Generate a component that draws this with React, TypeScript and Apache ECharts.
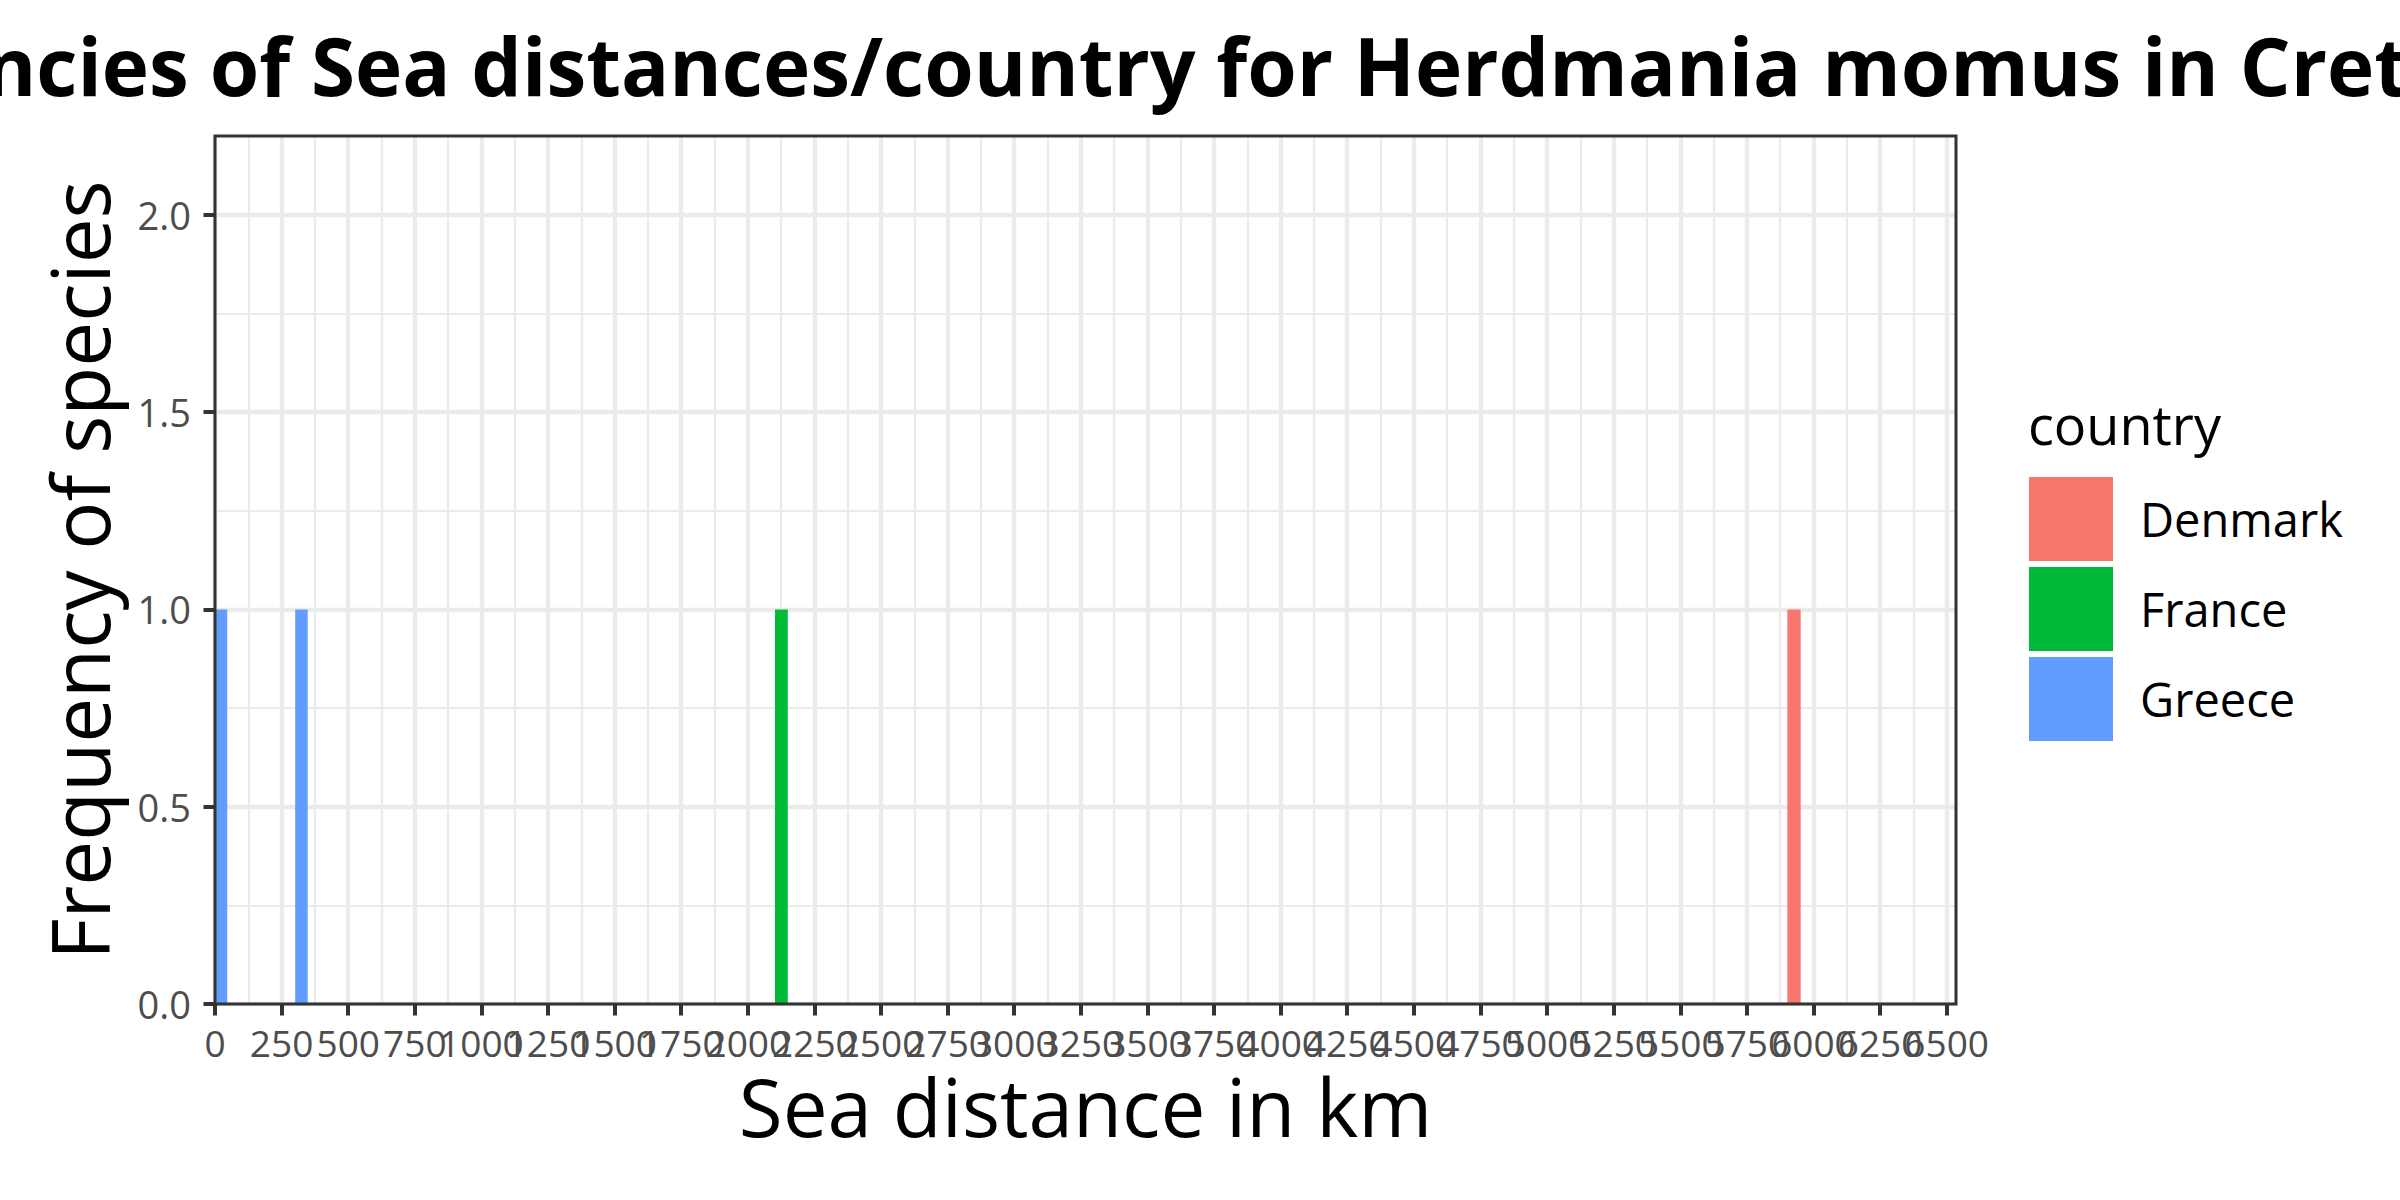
import React, { useEffect, useRef } from "react";
import * as echarts from "echarts";

const chartTitle = "Frequencies of Sea distances/country for Herdmania momus in Crete";
const xAxisTitle = "Sea distance in km";
const yAxisTitle = "Frequency of species";
const legendTitle = "country";

const countries = ["Denmark", "France", "Greece"];
const countryColors = ["#F8766D", "#00BA38", "#619CFF"];

// histogram bins: [bin start (km), bin end (km), count]
const denmarkBins = [[5902, 5952, 1]];
const franceBins = [[2102, 2150, 1]];
const greeceBins = [
  [0, 46, 1],
  [301, 348, 1],
];

const xTicks = [
  0, 250, 500, 750, 1000, 1250, 1500, 1750, 2000, 2250, 2500, 2750, 3000, 3250,
  3500, 3750, 4000, 4250, 4500, 4750, 5000, 5250, 5500, 5750, 6000, 6250, 6500,
];
const yTicks = [0, 0.5, 1.0, 1.5, 2.0];
const xRange = [0, 6535];
const yRange = [0, 2.2];

const FONT = "'Open Sans', 'DejaVu Sans', sans-serif";
const GRID = { left: 215, right: 444, top: 136, bottom: 196 };

export default function App() {
  const ref = useRef<HTMLDivElement>(null);

  useEffect(() => {
    if (!ref.current) return;
    const chart = echarts.init(ref.current, undefined, { renderer: "svg" });

    const xMinor = xTicks.map((v) => v + 125).filter((v) => v < xRange[1]);
    const yMinor = yTicks.map((v) => v + 0.25).filter((v) => v < yRange[1]);
    // labels split over two axes so that the overlapping neighbours are all kept
    const xLabelsA = xTicks.filter((_, i) => i % 2 === 0);
    const xLabelsB = xTicks.filter((_, i) => i % 2 === 1);

    const binSeries = [denmarkBins, franceBins, greeceBins].map((bins, i) => ({
      name: countries[i],
      type: "custom",
      xAxisIndex: 0,
      yAxisIndex: 0,
      itemStyle: { color: countryColors[i] },
      encode: { x: [0, 1], y: 2 },
      data: bins,
      z: 3,
      renderItem: (params: any, api: any) => {
        const p0 = api.coord([api.value(0), 0]);
        const p1 = api.coord([api.value(1), api.value(2)]);
        return {
          type: "rect",
          shape: { x: p0[0], y: p1[1], width: p1[0] - p0[0], height: p0[1] - p1[1] },
          style: { fill: countryColors[i] },
        };
      },
    }));

    const panelW = 2400 - GRID.left - GRID.right;
    const panelH = 1200 - GRID.top - GRID.bottom;

    const xLabelStyle = {
      fontSize: 37,
      color: "#4D4D4D",
      margin: 20,
      fontFamily: FONT,
      hideOverlap: false,
      showMinLabel: true,
      showMaxLabel: true,
      formatter: (v: number) => String(v),
    };

    chart.setOption({
      animation: false,
      backgroundColor: "#ffffff",
      textStyle: { fontFamily: FONT },
      grid: { ...GRID, containLabel: false, show: false },
      legend: {
        data: countries,
        orient: "vertical",
        left: 2029,
        top: 477,
        padding: 0,
        itemWidth: 84,
        itemHeight: 84,
        itemGap: 6,
        icon: "rect",
        selectedMode: false,
        textStyle: { fontSize: 47, color: "#000000", fontFamily: FONT, padding: [0, 0, 0, 22] },
      },
      xAxis: [
        {
          type: "value",
          min: xRange[0],
          max: xRange[1],
          position: "bottom",
          name: xAxisTitle,
          nameLocation: "middle",
          nameGap: 58,
          nameTextStyle: { fontSize: 80, color: "#000000", fontFamily: FONT },
          axisLine: { show: false },
          axisTick: {
            show: true,
            customValues: xTicks,
            length: 11.5,
            lineStyle: { color: "#333333", width: 4 },
          },
          axisLabel: { ...xLabelStyle, customValues: xLabelsA },
          splitLine: { show: true, lineStyle: { color: "#EBEBEB", width: 4.4 } },
        },
        {
          type: "value",
          min: xRange[0],
          max: xRange[1],
          position: "top",
          axisLine: { show: false },
          axisTick: { show: false, customValues: xMinor },
          axisLabel: { show: false, customValues: xMinor },
          splitLine: { show: true, lineStyle: { color: "#EBEBEB", width: 2.2 } },
        },
        {
          type: "value",
          min: xRange[0],
          max: xRange[1],
          position: "bottom",
          axisLine: { show: false },
          axisTick: { show: false, customValues: xLabelsB },
          axisLabel: { ...xLabelStyle, customValues: xLabelsB },
          splitLine: { show: false },
        },
      ],
      yAxis: [
        {
          type: "value",
          min: yRange[0],
          max: yRange[1],
          position: "left",
          name: yAxisTitle,
          nameLocation: "middle",
          nameGap: 97,
          nameTextStyle: { fontSize: 80, color: "#000000", fontFamily: FONT },
          axisLine: { show: false },
          axisTick: {
            show: true,
            customValues: yTicks,
            length: 11.5,
            lineStyle: { color: "#333333", width: 4 },
          },
          axisLabel: {
            customValues: yTicks,
            fontSize: 38,
            color: "#4D4D4D",
            margin: 24,
            fontFamily: FONT,
            showMinLabel: true,
            showMaxLabel: true,
            formatter: (v: number) => v.toFixed(1),
          },
          splitLine: { show: true, lineStyle: { color: "#EBEBEB", width: 4.4 } },
        },
        {
          type: "value",
          min: yRange[0],
          max: yRange[1],
          position: "right",
          axisLine: { show: false },
          axisTick: { show: false, customValues: yMinor },
          axisLabel: { show: false, customValues: yMinor },
          splitLine: { show: true, lineStyle: { color: "#EBEBEB", width: 2.2 } },
        },
      ],
      graphic: [
        {
          type: "rect",
          z: 100,
          silent: true,
          shape: { x: GRID.left, y: GRID.top, width: panelW, height: panelH },
          style: { fill: "none", stroke: "#333333", lineWidth: 3 },
        },
        {
          type: "text",
          z: 100,
          x: 1081,
          y: 64,
          style: {
            text: chartTitle,
            font: `bold 80px ${FONT}`,
            fill: "#000000",
            textAlign: "center",
            textVerticalAlign: "middle",
          },
        },
        {
          type: "text",
          z: 100,
          x: 2028,
          y: 424,
          style: {
            text: legendTitle,
            font: `54px ${FONT}`,
            fill: "#000000",
            textAlign: "left",
            textVerticalAlign: "middle",
          },
        },
      ],
      series: binSeries,
    });

    return () => chart.dispose();
  }, []);

  return (
    <div
      ref={ref}
      style={{ position: "fixed", left: 0, top: 0, width: 2400, height: 1200, background: "#fff" }}
    />
  );
}
